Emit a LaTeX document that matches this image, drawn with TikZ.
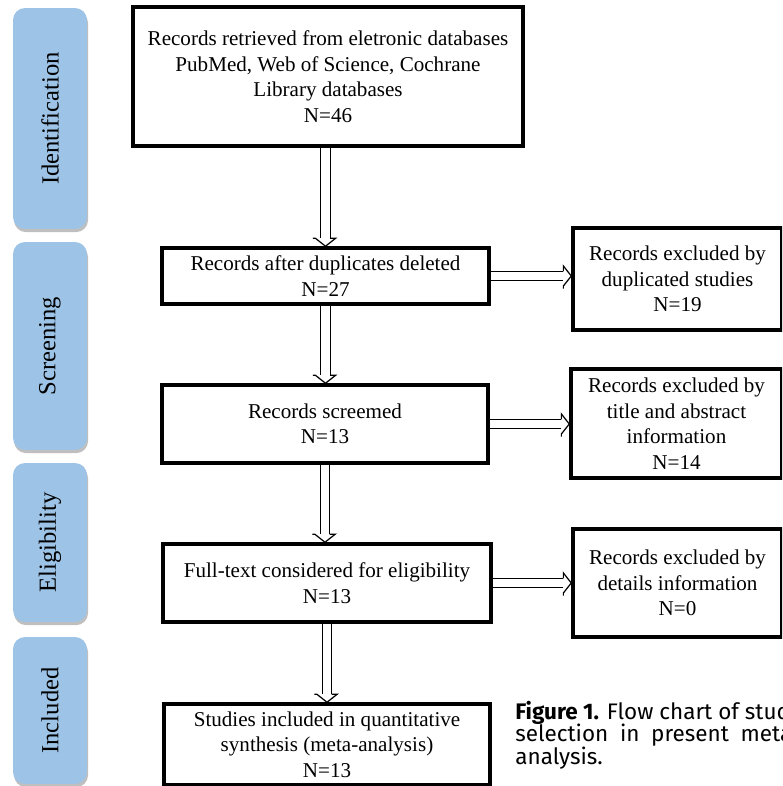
\documentclass[tikz,border=0pt]{standalone}
\usepackage{fontspec}
\setmainfont{Liberation Serif}
\newfontfamily\capfont{Fira Sans}
\usetikzlibrary{decorations.markings,shadows}
\definecolor{stageblue}{RGB}{157,195,230}
\newlength\capwd
\newcommand\capstyle{\fontsize{12.8}{13}\capfont\lineskiplimit-10pt\relax}

\begin{document}
\settowidth{\capwd}{\capstyle\textbf{Figure 1.} Flow chart of study}
\begin{tikzpicture}[x=0.02cm,y=-0.02cm,
		stage/.style={fill=stageblue, rounded corners=0.24cm, minimum width=1.48cm, inner sep=0pt, font=\fontsize{14}{16}\selectfont, drop shadow={shadow xshift=0.6pt, shadow yshift=-1.8pt, fill=black!50, opacity=0.5}},
		box/.style={draw, line width=2pt, align=center, inner sep=0pt, font=\fontsize{12}{14.5}\selectfont},
		flow/.style={double, double distance=4.6pt, line width=0.7pt, shorten >=4.5pt,
			postaction={decorate, decoration={markings, mark=at position 1 with {
				\fill[white] (0,0) -- (-4.5pt,5.7pt) -- (-4.5pt,-5.7pt) -- cycle;
				\draw[line width=0.7pt, line join=miter] (-4.5pt,2.65pt) -- (-4.5pt,5.7pt) -- (0,0) -- (-4.5pt,-5.7pt) -- (-4.5pt,-2.65pt);}}}}]
				\useasboundingbox (0,0) rectangle (782,786);
				\clip (0,0) rectangle (782,786);
				
				\node[stage, minimum height=4.42cm] (identification) at (50,118.5) {\rotatebox{90}{Identification}};
				\node[stage, minimum height=4.16cm] (screening) at (50,346) {\rotatebox{90}{Screening}};
				\node[stage, minimum height=3.18cm] (eligibility) at (50,542.5) {\rotatebox{90}{Eligibility}};
				\node[stage, minimum height=2.94cm] (included) at (50,710.5) {\rotatebox{90}{Included}};
				
				\node[box, minimum width=7.8cm, minimum height=2.78cm] (search) at (328,76.5) {Records retrieved from eletronic databases\\PubMed, Web of Science, Cochrane\\Library databases\\N=46};
				\node[box, minimum width=6.54cm, minimum height=1.12cm] (dedup) at (325.5,276) {Records after duplicates deleted\\N=27};
				\node[box, minimum width=6.52cm, minimum height=1.56cm] (screened) at (325,424) {Records screemed\\N=13};
				\node[box, minimum width=6.56cm, minimum height=1.56cm] (fulltext) at (327,583) {Full-text considered for eligibility\\N=13};
				\node[box, minimum width=6.52cm, minimum height=1.62cm] (synthesis) at (327,744.5) {Studies included in quantitative\\synthesis (meta-analysis)\\N=13};
				
				\node[box, minimum width=4.18cm, minimum height=2.04cm] (exdup) at (677.5,279) {Records excluded by\\duplicated studies\\N=19};
				\node[box, minimum width=4.22cm, minimum height=2.18cm] (extitle) at (676.5,423.5) {Records excluded by\\title and abstract\\information\\N=14};
				\node[box, minimum width=4.18cm, minimum height=2.16cm] (exdetails) at (677.5,583) {Records excluded by\\details information\\N=0};
				
				\draw[flow] (search.south -| dedup) -- (dedup.north);
				\draw[flow] (dedup.south) -- (dedup.south |- screened.north);
				\draw[flow] (screened.south) -- (screened.south |- fulltext.north);
				\draw[flow] (fulltext.south) -- (synthesis.north);
				
				\draw[flow] (dedup.east) -- (dedup.east -| exdup.west);
				\draw[flow] (screened.east) -- (screened.east -| extitle.west);
				\draw[flow] (fulltext.east |- exdetails.west) -- (exdetails.west);
				
				\node[anchor=base west, text width=\capwd, align=justify, inner sep=0pt, font=\capstyle] (caption) at (515,719) {\textbf{Figure 1.} Flow chart of study\linebreak selection in present meta-\linebreak analysis.};
			\end{tikzpicture}
\end{document}
